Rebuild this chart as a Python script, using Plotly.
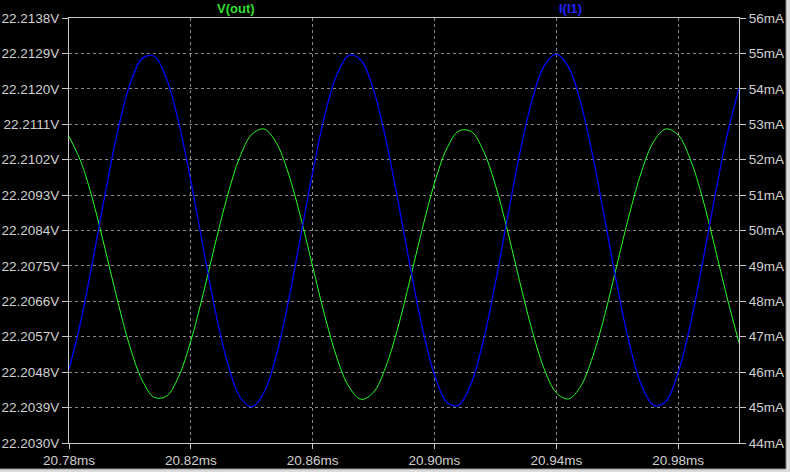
import plotly.graph_objects as go

# time axis (ms)
time_ms = [round(20.780 + 0.004 * k, 3) for k in range(56)]

# V(out) in volts
v_out = [22.21079, 22.21013, 22.20912, 22.20788, 22.20660, 22.20545, 22.20460, 22.20416,
         22.20419, 22.20469, 22.20559, 22.20677, 22.20806, 22.20927, 22.21025, 22.21084,
         22.21098, 22.21064, 22.20986, 22.20876, 22.20749, 22.20623, 22.20516, 22.20442,
         22.20411, 22.20429, 22.20493, 22.20593, 22.20716, 22.20844, 22.20960, 22.21047,
         22.21093, 22.21092, 22.21044, 22.20956, 22.20839, 22.20710, 22.20588, 22.20489,
         22.20428, 22.20412, 22.20444, 22.20520, 22.20628, 22.20755, 22.20881, 22.20990,
         22.21066, 22.21098, 22.21083, 22.21021, 22.20923, 22.20800, 22.20672, 22.20555]

# I(I1) in mA
i_i1 = [46.08, 47.48, 49.24, 51.10, 52.81, 54.12, 54.86, 54.92,
        54.29, 53.06, 51.40, 49.55, 47.75, 46.28, 45.32, 45.02,
        45.42, 46.45, 47.99, 49.80, 51.64, 53.26, 54.41, 54.95,
        54.80, 53.97, 52.59, 50.85, 48.99, 47.26, 45.93, 45.16,
        45.07, 45.67, 46.87, 48.52, 50.37, 52.17, 53.66, 54.65,
        54.98, 54.62, 53.61, 52.09, 50.28, 48.44, 46.81, 45.63,
        45.06, 45.18, 45.98, 47.33, 49.07, 50.93, 52.66, 54.02]

x_ticks = [20.78, 20.82, 20.86, 20.90, 20.94, 20.98]
x_tick_text = ["20.78ms", "20.82ms", "20.86ms", "20.90ms", "20.94ms", "20.98ms"]
v_ticks = [round(22.2030 + 0.0009 * k, 4) for k in range(13)]
v_tick_text = [f"{v:.4f}V" for v in v_ticks]
i_ticks = list(range(44, 57))
i_tick_text = [f"{i}mA" for i in i_ticks]

AX = "#c8c8c8"
GRID = "#8a8a8a"
FAM = "Liberation Sans, Arial, sans-serif"
FONT = dict(family=FAM, size=13.5, color="#d0d0d0")

fig = go.Figure()
fig.add_trace(go.Scatter(x=time_ms, y=v_out, mode="lines", name="V(out)",
                         line=dict(color="#22ff22", width=1, shape="spline"), yaxis="y"))
fig.add_trace(go.Scatter(x=time_ms, y=i_i1, mode="lines", name="I(I1)",
                         line=dict(color="#0000ff", width=1.3, shape="spline"), yaxis="y2"))

# window frame at right / bottom edge (paper coords relative to the plot area)
frame = [
    dict(type="rect", xref="paper", yref="paper", x0=1.0702, x1=1.08, y0=-0.07, y1=1.05,
         fillcolor="#dcdcdc", line=dict(width=0), layer="above"),
    dict(type="rect", xref="paper", yref="paper", x0=-0.11, x1=1.08, y0=-0.07, y1=-0.0612,
         fillcolor="#dcdcdc", line=dict(width=0), layer="above"),
    dict(type="line", xref="paper", yref="paper", x0=1.0702, x1=1.0702, y0=-0.0612, y1=1.05,
         line=dict(color="#909090", width=1), layer="above"),
    dict(type="line", xref="paper", yref="paper", x0=-0.11, x1=1.0702, y0=-0.0612, y1=-0.0612,
         line=dict(color="#909090", width=1), layer="above"),
]

fig.update_layout(
    width=790, height=472,
    margin=dict(l=69, r=51, t=18, b=29, autoexpand=False),
    paper_bgcolor="black", plot_bgcolor="black",
    showlegend=False, font=FONT, hovermode=False,
    shapes=frame,
    xaxis=dict(range=[20.78, 21.0], tickvals=x_ticks, ticktext=x_tick_text,
               showgrid=True, gridcolor=GRID, griddash="3px,3px", gridwidth=1,
               showline=True, linecolor=AX, linewidth=1, mirror=True,
               ticks="outside", ticklen=5, tickcolor=AX, zeroline=False,
               tickfont=FONT, automargin=False),
    yaxis=dict(range=[22.2030, 22.2138], tickvals=v_ticks, ticktext=v_tick_text,
               showgrid=True, gridcolor=GRID, griddash="3px,3px", gridwidth=1,
               showline=True, linecolor=AX, linewidth=1, mirror=True,
               ticks="outside", ticklen=6, tickcolor=AX, zeroline=False,
               tickfont=FONT, automargin=False),
    yaxis2=dict(range=[44, 56], tickvals=i_ticks, ticktext=i_tick_text,
                overlaying="y", side="right", showgrid=False,
                showline=True, linecolor=AX, linewidth=1,
                ticks="outside", ticklen=6, tickcolor=AX, zeroline=False,
                tickfont=FONT, automargin=False),
    annotations=[
        dict(text="<b>V(out)</b>", x=0.2493, y=1.0, xref="paper", yref="paper",
             xanchor="center", yanchor="middle", yshift=10, showarrow=False,
             font=dict(family=FAM, size=13, color="#33dd33")),
        dict(text="<b>I(I1)</b>", x=0.7478, y=1.0, xref="paper", yref="paper",
             xanchor="center", yanchor="middle", yshift=10, showarrow=False,
             font=dict(family=FAM, size=13, color="#2222ff")),
    ],
)

fig.write_html(
    "out.html",
    config={"displayModeBar": False, "staticPlot": True},
    post_script="document.body.style.margin='0';document.body.style.padding='0';"
                "document.body.style.background='black';document.body.style.overflow='hidden';",
)
